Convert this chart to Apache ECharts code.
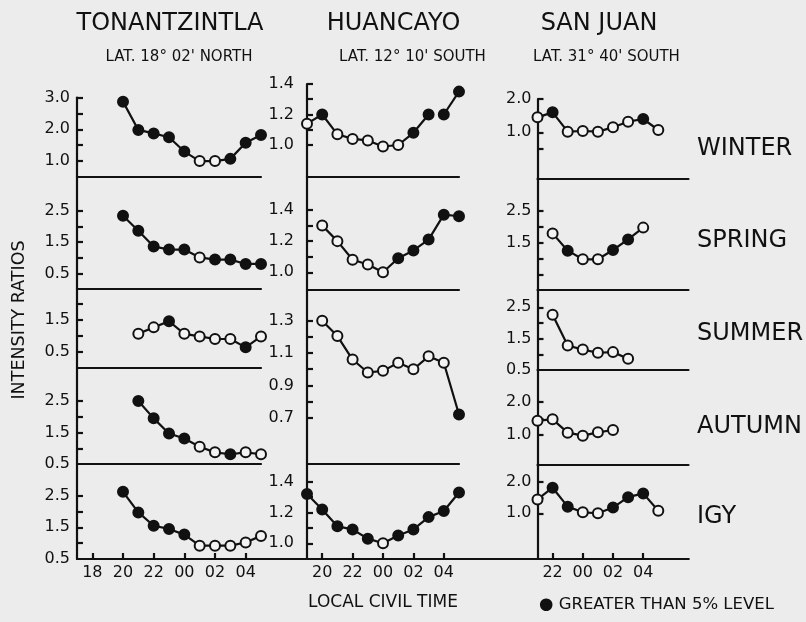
<!DOCTYPE html>
<html><head><meta charset="utf-8">
<script src="https://cdn.jsdelivr.net/npm/echarts@6/dist/echarts.min.js"></script>
<style>html,body{margin:0;padding:0;background:#ececec}#c{width:806px;height:622px}</style>
</head><body><div id="c"></div><script>
// ---------- DATA (intensity ratios by local civil hour; sig: 1 = greater than 5% level) ----------
// Tonantzintla
const tonWinterHours = [20,21,22,23,0,1,2,3,4,5];
const tonWinterRatio = [2.87,1.98,1.87,1.75,1.30,1.00,1.00,1.07,1.58,1.82];
const tonWinterSig   = [1,1,1,1,1,0,0,1,1,1];
const tonSpringHours = [20,21,22,23,0,1,2,3,4,5];
const tonSpringRatio = [2.34,1.86,1.36,1.26,1.26,1.01,0.94,0.94,0.80,0.80];
const tonSpringSig   = [1,1,1,1,1,0,1,1,1,1];
const tonSummerHours = [21,22,23,0,1,2,3,4,5];
const tonSummerRatio = [1.06,1.26,1.45,1.06,0.98,0.90,0.90,0.64,0.98];
const tonSummerSig   = [0,0,1,0,0,0,0,1,0];
const tonAutumnHours = [21,22,23,0,1,2,3,4,5];
const tonAutumnRatio = [2.50,1.95,1.47,1.31,1.05,0.87,0.81,0.87,0.81];
const tonAutumnSig   = [1,1,1,1,0,0,1,0,0];
const tonIgyHours    = [20,21,22,23,0,1,2,3,4,5];
const tonIgyRatio    = [2.62,1.97,1.55,1.45,1.27,0.92,0.92,0.92,1.02,1.23];
const tonIgySig      = [1,1,1,1,1,0,0,0,0,0];
// Huancayo
const huaWinterHours = [19,20,21,22,23,0,1,2,3,4,5];
const huaWinterRatio = [1.14,1.20,1.07,1.04,1.03,0.99,1.00,1.08,1.20,1.20,1.35];
const huaWinterSig   = [0,1,0,0,0,0,0,1,1,1,1];
const huaWinterBreaks = [8];            // line is interrupted after this point
const huaSpringHours = [20,21,22,23,0,1,2,3,4,5];
const huaSpringRatio = [1.30,1.20,1.08,1.05,1.00,1.09,1.14,1.21,1.37,1.36];
const huaSpringSig   = [0,0,0,0,0,1,1,1,1,1];
const huaSummerHours = [20,21,22,23,0,1,2,3,4,5];
const huaSummerRatio = [1.30,1.205,1.06,0.98,0.99,1.04,1.00,1.08,1.04,0.72];
const huaSummerSig   = [0,0,0,0,0,0,0,0,0,1];
const huaIgyHours    = [19,20,21,22,23,0,1,2,3,4,5];
const huaIgyRatio    = [1.32,1.22,1.11,1.09,1.03,1.00,1.05,1.09,1.17,1.21,1.33];
const huaIgySig      = [1,1,1,1,1,0,1,1,1,1,1];
// San Juan
const sjWinterHours = [21,22,23,0,1,2,3,4,5];
const sjWinterRatio = [1.45,1.60,1.02,1.04,1.02,1.15,1.32,1.40,1.07];
const sjWinterSig   = [0,1,0,0,0,0,0,1,0];
const sjSpringHours = [22,23,0,1,2,3,4];
const sjSpringRatio = [1.79,1.25,0.98,0.98,1.27,1.60,1.97];
const sjSpringSig   = [0,1,0,0,1,1,0];
const sjSummerHours = [22,23,0,1,2,3];
const sjSummerRatio = [2.26,1.28,1.15,1.05,1.07,0.86];
const sjSummerSig   = [0,0,0,0,0,0];
const sjAutumnHours = [21,22,23,0,1,2];
const sjAutumnRatio = [1.43,1.47,1.07,0.98,1.08,1.15];
const sjAutumnSig   = [0,0,0,0,0,0];
const sjIgyHours    = [21,22,23,0,1,2,3,4,5];
const sjIgyRatio    = [1.44,1.81,1.21,1.03,1.00,1.18,1.51,1.63,1.08];
const sjIgySig      = [0,1,1,0,0,1,1,1,0];

// ---------- tick values and tick labels ----------
const tonTimeLabels = [18,20,22,0,2,4];
const huaTimeLabels = [20,22,0,2,4];
const sjTimeLabels  = [22,0,2,4];

const tonWinterTicks = [1,1.5,2,2.5,3],      tonWinterLabels = [1,2,3];
const tonSpringTicks = [0.5,1,1.5,2,2.5],    tonSpringLabels = [0.5,1.5,2.5];
const tonSummerTicks = [0.5,1,1.5,2],        tonSummerLabels = [0.5,1.5];
const tonAutumnTicks = [1,1.5,2,2.5],        tonAutumnLabels = [0.5,1.5,2.5];
const tonIgyTicks    = [1,1.5,2,2.5],        tonIgyLabels    = [0.5,1.5,2.5];
const huaWinterTicks = [1,1.1,1.2,1.3,1.4],  huaWinterLabels = [1.0,1.2,1.4];
const huaSpringTicks = [1,1.1,1.2,1.3,1.4],  huaSpringLabels = [1.0,1.2,1.4];
const huaSummerTicks = [0.7,0.8,0.9,1.0,1.1,1.2,1.3], huaSummerLabels = [0.7,0.9,1.1,1.3];
const huaIgyTicks    = [1,1.1,1.2,1.3,1.4],  huaIgyLabels    = [1.0,1.2,1.4];
const sjWinterTicks  = [0.5,1,1.5,2],        sjWinterLabels  = [1,2];
const sjSpringTicks  = [0.5,1,1.5,2,2.5],    sjSpringLabels  = [1.5,2.5];
const sjSummerTicks  = [1,1.5,2,2.5],        sjSummerLabels  = [0.5,1.5,2.5];
const sjAutumnTicks  = [1,1.5,2],            sjAutumnLabels  = [1,2];
const sjIgyTicks     = [1,1.5,2],            sjIgyLabels     = [1,2];

// ---------- layout ----------
const INK = '#111111';
const OPEN = '#f3f3f3';
const FONT = '"DejaVu Sans", sans-serif';
const toX = h => (h < 12 ? h + 24 : h);

const columns = [
  { left: 77, width: 184, xMin: 17, xMax: 29, labelMargin: 7, time: tonTimeLabels, panels: [
    { top: 97.5, bottom: 177, yMin: 0.5, yMax: 3.0,  ticks: tonWinterTicks, labels: tonWinterLabels, hours: tonWinterHours, vals: tonWinterRatio, sig: tonWinterSig },
    { top: 177, bottom: 289, yMin: 0,    yMax: 3.58, ticks: tonSpringTicks, labels: tonSpringLabels, hours: tonSpringHours, vals: tonSpringRatio, sig: tonSpringSig },
    { top: 289, bottom: 368, yMin: 0,    yMax: 2.45, ticks: tonSummerTicks, labels: tonSummerLabels, hours: tonSummerHours, vals: tonSummerRatio, sig: tonSummerSig },
    { top: 368, bottom: 464, yMin: 0.5,  yMax: 3.55, ticks: tonAutumnTicks, labels: tonAutumnLabels, hours: tonAutumnHours, vals: tonAutumnRatio, sig: tonAutumnSig },
    { top: 464, bottom: 559, yMin: 0.5,  yMax: 3.5,  ticks: tonIgyTicks,    labels: tonIgyLabels,    hours: tonIgyHours,    vals: tonIgyRatio,    sig: tonIgySig }
  ]},
  { left: 307, width: 152, xMin: 19, xMax: 29, labelMargin: 13, time: huaTimeLabels, panels: [
    { top: 84,  bottom: 177, yMin: 0.79,  yMax: 1.4,   ticks: huaWinterTicks, labels: huaWinterLabels, hours: huaWinterHours, vals: huaWinterRatio, sig: huaWinterSig, breaks: huaWinterBreaks },
    { top: 177, bottom: 290, yMin: 0.886, yMax: 1.612, ticks: huaSpringTicks, labels: huaSpringLabels, hours: huaSpringHours, vals: huaSpringRatio, sig: huaSpringSig },
    { top: 290, bottom: 464, yMin: 0.414, yMax: 1.49,  ticks: huaSummerTicks, labels: huaSummerLabels, hours: huaSummerHours, vals: huaSummerRatio, sig: huaSummerSig },
    { top: 464, bottom: 559, yMin: 0.898, yMax: 1.515, ticks: huaIgyTicks,    labels: huaIgyLabels,    hours: huaIgyHours,    vals: huaIgyRatio,    sig: huaIgySig }
  ]},
  { left: 537.5, width: 151, xMin: 21, xMax: 31, labelMargin: 6, time: sjTimeLabels, panels: [
    { top: 99,  bottom: 179, yMin: -0.40, yMax: 2.0,  ticks: sjWinterTicks, labels: sjWinterLabels, hours: sjWinterHours, vals: sjWinterRatio, sig: sjWinterSig },
    { top: 179, bottom: 290, yMin: 0.02,  yMax: 3.49, ticks: sjSpringTicks, labels: sjSpringLabels, hours: sjSpringHours, vals: sjSpringRatio, sig: sjSpringSig },
    { top: 290, bottom: 370, yMin: 0.5,   yMax: 3.05, ticks: sjSummerTicks, labels: sjSummerLabels, hours: sjSummerHours, vals: sjSummerRatio, sig: sjSummerSig },
    { top: 370, bottom: 465, yMin: 0.1,   yMax: 2.95, ticks: sjAutumnTicks, labels: sjAutumnLabels, hours: sjAutumnHours, vals: sjAutumnRatio, sig: sjAutumnSig },
    { top: 465, bottom: 559, yMin: -0.45, yMax: 2.53, ticks: sjIgyTicks,    labels: sjIgyLabels,    hours: sjIgyHours,    vals: sjIgyRatio,    sig: sjIgySig }
  ]}
];

const lineStyle = { color: INK, width: 2.2 };
const grid = [], xAxis = [], yAxis = [], series = [];

columns.forEach(col => {
  col.panels.forEach((p, pi) => {
    const isLast = pi === col.panels.length - 1;
    const gi = grid.length;
    grid.push({ left: col.left, top: p.top, width: col.width, height: p.bottom - p.top,
                containLabel: false, outerBoundsMode: 'none' });
    xAxis.push({
      gridIndex: gi, type: 'value', min: col.xMin, max: col.xMax,
      axisLine: { show: true, onZero: false, lineStyle },
      splitLine: { show: false },
      axisTick: { show: isLast, inside: true, length: 6, lineStyle, customValues: col.time.map(toX) },
      axisLabel: { show: isLast, customValues: col.time.map(toX), margin: 6,
                   formatter: v => String(Math.round(v) % 24).padStart(2, '0'),
                   color: INK, fontSize: 16, fontFamily: FONT }
    });
    yAxis.push({
      gridIndex: gi, type: 'value', min: p.yMin, max: p.yMax,
      axisLine: { show: true, onZero: false, lineStyle },
      splitLine: { show: false },
      axisTick: { show: true, inside: true, length: 6, lineStyle, customValues: p.ticks },
      axisLabel: { show: true, customValues: p.labels, margin: col.labelMargin,
                   formatter: v => Number(v).toFixed(1),
                   color: INK, fontSize: 16, fontFamily: FONT }
    });
    // build line segments (split at breaks)
    const cuts = [-1].concat(p.breaks || [], [p.vals.length - 1]);
    for (let s = 0; s < cuts.length - 1; s++) {
      const data = [];
      for (let i = cuts[s] + 1; i <= cuts[s + 1]; i++) {
        data.push({ value: [toX(p.hours[i]), p.vals[i]],
                    itemStyle: { color: p.sig[i] ? INK : OPEN } });
      }
      series.push({
        type: 'line', xAxisIndex: gi, yAxisIndex: gi, data,
        symbol: 'circle', symbolSize: 10, showAllSymbol: true, clip: false,
        lineStyle: { color: INK, width: 2.2 },
        itemStyle: { borderColor: INK, borderWidth: 2 },
        emphasis: { disabled: true }, silent: true
      });
    }
  });
});

// continuous base line under all three columns
const gb = grid.length;
grid.push({ left: 77, width: 611.5, top: 549, height: 10, containLabel: false, outerBoundsMode: 'none' });
xAxis.push({ gridIndex: gb, type: 'value', min: 0, max: 1, axisLine: { show: true, onZero: false, lineStyle },
             axisTick: { show: false }, axisLabel: { show: false }, splitLine: { show: false } });
yAxis.push({ gridIndex: gb, type: 'value', show: false });

const txt = (text, x, y, size, align, extra) => Object.assign({
  type: 'text', x, y, silent: true,
  style: { text, fill: INK, font: size + 'px ' + FONT, align: align || 'center', verticalAlign: 'middle' }
}, extra || {});

const graphic = [
  txt('TONANTZINTLA', 170, 23.5, 24),
  txt('HUANCAYO', 393.5, 23.5, 24),
  txt('SAN JUAN', 599, 23.5, 24),
  txt('LAT. 18° 02\' NORTH', 179, 57, 15),
  txt('LAT. 12° 10\' SOUTH', 412.5, 57, 15),
  txt('LAT. 31° 40\' SOUTH', 606.5, 57, 15),
  txt('WINTER', 697, 149, 24, 'left'),
  txt('SPRING', 697, 241, 24, 'left'),
  txt('SUMMER', 697, 334, 24, 'left'),
  txt('AUTUMN', 697, 427, 24, 'left'),
  txt('IGY', 697, 517, 24, 'left'),
  txt('INTENSITY RATIOS', 19, 320, 17.5, 'center', { rotation: Math.PI / 2 }),
  txt('LOCAL CIVIL TIME', 383, 603, 17),
  txt('● GREATER THAN 5% LEVEL', 539, 605, 16.5, 'left')
];

const chart = echarts.init(document.getElementById('c'), null, { renderer: 'canvas' });
chart.setOption({
  backgroundColor: '#ececec',
  animation: false,
  grid, xAxis, yAxis, series, graphic
});
</script></body></html>
